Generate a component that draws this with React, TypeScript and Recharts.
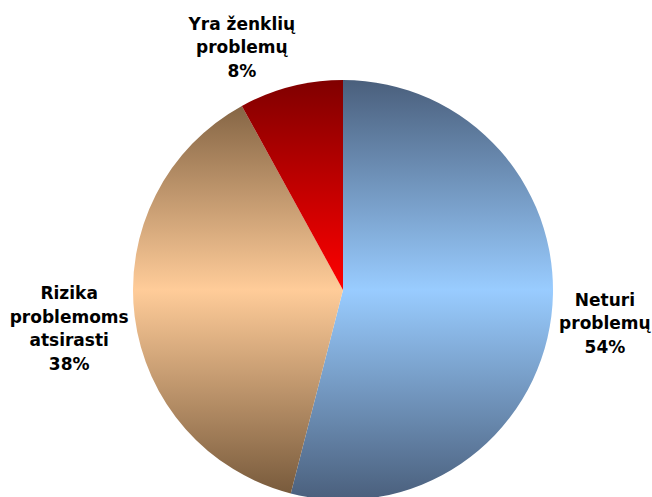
import { PieChart, Pie, Cell } from "recharts";

const categories = ["Neturi problemų", "Rizika problemoms atsirasti", "Yra ženklių problemų"];
const shares = [54, 38, 8];
// multi-line captions drawn next to each slice
const captionLines = [
  ["Neturi", "problemų"],
  ["Rizika", "problemoms", "atsirasti"],
  ["Yra ženklių", "problemų"],
];

const data = categories.map((name, i) => ({ name, value: shares[i] }));

const WIDTH = 652;
const HEIGHT = 497;
const CX = 343;
const CY = 290;
const R = 210;

// edge colour (top/bottom) and centre colour for each slice gradient
const GRADIENTS = [
  { edge: "#4a5f7c", mid: "#99ccff" },
  { edge: "#745739", mid: "#ffcc99" },
  { edge: "#800000", mid: "#ff0000" },
];

// small hand nudges for label blocks that Excel moved away from the radial spot
const LABEL_NUDGE: Record<number, { dx: number; dy: number; dist: number }> = {
  0: { dx: -2, dy: 0, dist: 56 },
  1: { dx: 0, dy: 4, dist: 66 },
  2: { dx: -36, dy: 11, dist: 52 },
};

const RADIAN = Math.PI / 180;
const LINE_H = 23.5;

function renderLabel(props: any) {
  const { cx, cy, midAngle, outerRadius, index, value } = props;
  const nudge = LABEL_NUDGE[index] ?? { dx: 0, dy: 0, dist: 55 };
  const r = outerRadius + nudge.dist;
  const x = cx + r * Math.cos(-midAngle * RADIAN) + nudge.dx;
  const y = cy + r * Math.sin(-midAngle * RADIAN) + nudge.dy;
  const lines = [...captionLines[index], `${value}%`];
  const top = y - ((lines.length - 1) * LINE_H) / 2;
  return (
    <text
      key={`lbl-${index}`}
      x={x}
      y={top}
      textAnchor="middle"
      dominantBaseline="central"
      fill="#000"
      fontFamily="DejaVu Sans, Verdana, sans-serif"
      fontWeight="bold"
      fontSize={17}
    >
      {lines.map((t, i) => (
        <tspan key={i} x={x} y={top + i * LINE_H}>
          {t}
        </tspan>
      ))}
    </text>
  );
}

export default function App() {
  return (
    <div style={{ width: WIDTH, height: HEIGHT, background: "#fff" }}>
      <style>{"body{margin:0}"}</style>
      <PieChart width={WIDTH} height={HEIGHT} margin={{ top: 0, right: 0, bottom: 0, left: 0 }}>
        <defs>
          {GRADIENTS.map((g, i) => (
            <linearGradient
              key={i}
              id={`slice${i}`}
              gradientUnits="userSpaceOnUse"
              x1={0}
              y1={CY - R}
              x2={0}
              y2={CY + R}
            >
              <stop offset="0%" stopColor={g.edge} />
              <stop offset="50%" stopColor={g.mid} />
              <stop offset="100%" stopColor={g.edge} />
            </linearGradient>
          ))}
        </defs>
        <Pie
          data={data}
          dataKey="value"
          nameKey="name"
          cx={CX}
          cy={CY}
          outerRadius={R}
          startAngle={90}
          endAngle={-270}
          stroke="none"
          labelLine={false}
          label={renderLabel}
          isAnimationActive={false}
        >
          {data.map((_, i) => (
            <Cell key={i} fill={`url(#slice${i})`} />
          ))}
        </Pie>
      </PieChart>
    </div>
  );
}
